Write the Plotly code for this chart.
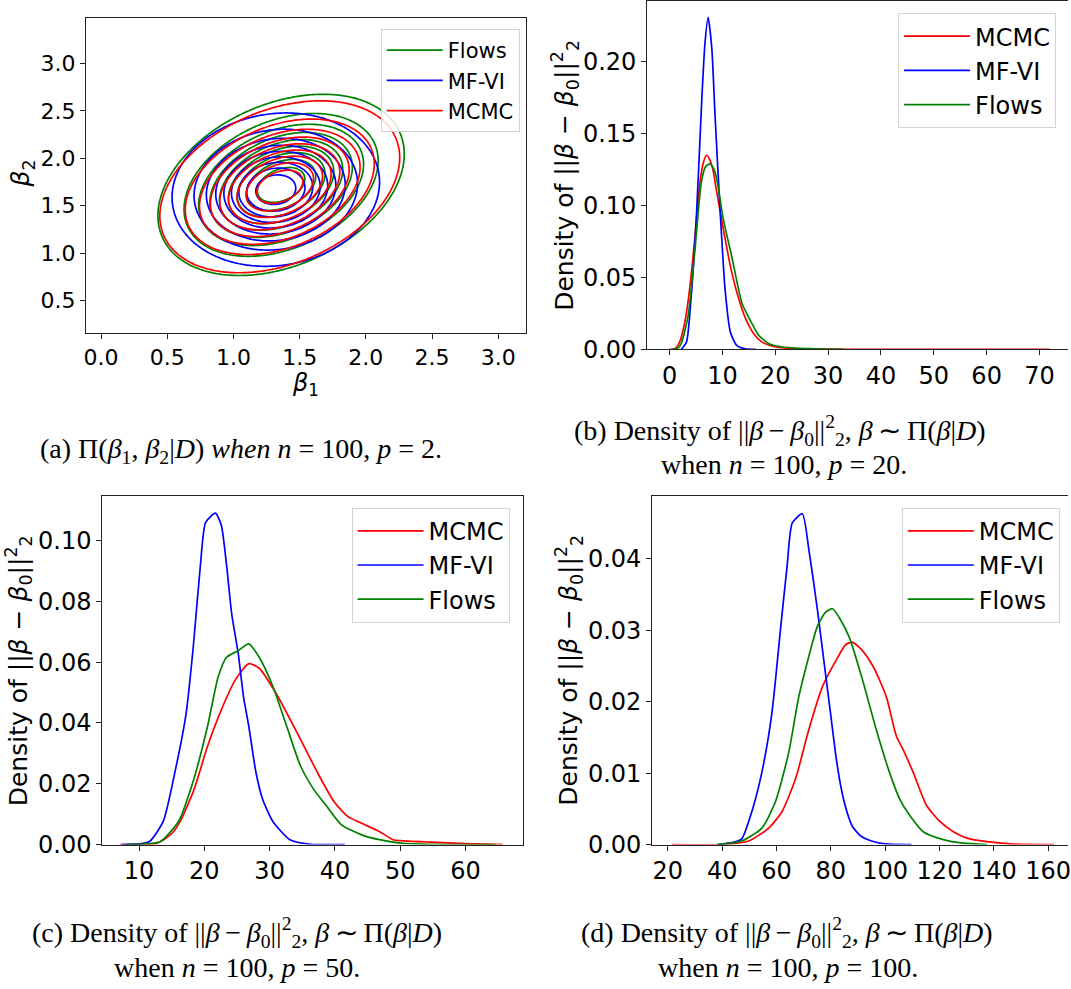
import numpy as np
import plotly.graph_objects as go

W, H = 1071, 989
RED, BLUE, GREEN = "#ff0000", "#0000ff", "#008000"

# ---------------- (a) 2-D posterior: Gaussian summaries ----------
methods_a = ["Flows", "MF-VI", "MCMC"]
colors_a = [GREEN, BLUE, RED]
mean_b1 = [1.36, 1.32, 1.35]
mean_b2 = [1.72, 1.67, 1.70]
sd_b1 = [0.38, 0.32, 0.37]
sd_b2 = [0.39, 0.33, 0.37]
corr_b = [0.34, 0.10, 0.34]
iso_levels = [0.05, 0.9]          # seaborn-style iso-proportion levels (10 levels)

# ---------------- (b) p = 20 --------------------------------------------------------------
mcmc_x_20 = [0, 1.0, 1.9, 2.9, 3.8, 4.8, 5.7, 6.4, 7.0, 7.6, 8.2, 8.9, 10.2, 11.5, 12.7, 14.3, 15.1, 15.9, 17.5, 20.1, 23.3, 29.6, 40, 55, 72]
mcmc_y_20 = [0, 0.0003, 0.005, 0.019, 0.042, 0.078, 0.115, 0.130, 0.135, 0.132, 0.125, 0.110, 0.083, 0.058, 0.040, 0.022, 0.016, 0.011, 0.005, 0.0016, 0.0005, 0.0001, 0, 0, 0]
mfvi_x_20 = [2.2, 3.2, 4.1, 5.1, 6.1, 6.7, 7.3, 8.0, 8.6, 9.6, 10.5, 11.5, 12.7, 14.3, 16.3]
mfvi_y_20 = [0, 0.005, 0.037, 0.094, 0.174, 0.213, 0.231, 0.209, 0.163, 0.094, 0.042, 0.012, 0.0027, 0.0003, 0]
flows_x_20 = [0.5, 1.5, 2.2, 3.5, 4.8, 6.0, 6.8, 7.6, 8.3, 8.9, 10.2, 11.8, 13.7, 15.3, 16.9, 18.8, 21.4, 26.5, 32.8]
flows_y_20 = [0, 0.0005, 0.004, 0.023, 0.069, 0.116, 0.127, 0.129, 0.126, 0.119, 0.090, 0.064, 0.032, 0.020, 0.0096, 0.0039, 0.0016, 0.0005, 0]

# ---------------- (c) p = 50 --------------------------------------------------------------
mcmc_x_50 = [7.1, 10.5, 12.6, 14.2, 15.3, 16.3, 18.4, 20.5, 22.6, 24.7, 26.8, 28.4, 31.0, 34.2, 37.3, 39.9, 42.0, 44.1, 46.8, 48.9, 50.0, 54.6, 59.9, 65.7]
mcmc_y_50 = [0, 0.0001, 0.0003, 0.0022, 0.0043, 0.0076, 0.018, 0.0324, 0.0443, 0.054, 0.0595, 0.058, 0.0497, 0.0368, 0.0238, 0.014, 0.0092, 0.007, 0.0043, 0.0016, 0.0013, 0.0008, 0.0003, 0]
mfvi_x_50 = [7.4, 10.0, 11.6, 13.7, 15.6, 17.2, 18.3, 19.4, 20.2, 21.7, 22.6, 23.4, 24.2, 25.2, 26.0, 26.8, 27.9, 28.9, 30.5, 33.1, 36.3, 41.5]
mfvi_y_50 = [0, 0.0002, 0.001, 0.0076, 0.0249, 0.043, 0.065, 0.092, 0.106, 0.109, 0.105, 0.092, 0.0757, 0.0627, 0.0486, 0.039, 0.0238, 0.0151, 0.0076, 0.0016, 0.0001, 0]
flows_x_50 = [8.0, 11.0, 13.2, 15.3, 16.3, 18.4, 20.5, 22.1, 23.4, 25.2, 26.8, 28.4, 30.5, 32.6, 34.7, 36.8, 38.6, 41.0, 44.1, 46.8, 50.0, 54.6, 64.6]
flows_y_50 = [0, 0.0002, 0.0009, 0.0054, 0.0086, 0.0216, 0.039, 0.055, 0.0616, 0.0638, 0.066, 0.0616, 0.052, 0.039, 0.026, 0.018, 0.013, 0.0065, 0.0032, 0.0016, 0.0005, 0.0001, 0]

# ---------------- (d) p = 100 -------------------------------------------------------------
mcmc_x_100 = [21.6, 39.8, 49.7, 57.1, 62.0, 67.0, 71.9, 76.9, 81.8, 85.5, 88.0, 91.7, 96.0, 100.4, 104.1, 106.6, 110.3, 115.2, 120.2, 125.1, 130.1, 137.5, 146.1, 162.1]
mcmc_y_100 = [0, 0, 0.0005, 0.0023, 0.0046, 0.0092, 0.0161, 0.0221, 0.0257, 0.028, 0.0283, 0.0271, 0.0246, 0.0207, 0.0152, 0.0133, 0.0101, 0.0055, 0.0032, 0.0018, 0.0009, 0.0004, 0.0001, 0]
mfvi_x_100 = [38.6, 44.0, 47.2, 50.9, 54.6, 58.3, 61.4, 63.9, 65.8, 69.5, 72.0, 75.0, 78.0, 80.0, 82.0, 84.0, 86.0, 88.0, 91.0, 95.0, 100.0, 109.7]
mfvi_y_100 = [0, 0.0003, 0.0008, 0.0046, 0.0101, 0.0184, 0.0299, 0.039, 0.045, 0.0463, 0.041, 0.033, 0.024, 0.018, 0.012, 0.0075, 0.0045, 0.0025, 0.0012, 0.0005, 0.0001, 0]
flows_x_100 = [38.0, 47.2, 54.6, 59.6, 64.5, 68.2, 72.0, 75.0, 78.0, 80.6, 83.0, 86.8, 91.7, 96.7, 101.6, 105.3, 109.0, 114.0, 121.4, 128.8, 137.5]
flows_y_100 = [0, 0.0005, 0.0023, 0.006, 0.0129, 0.0207, 0.0265, 0.0305, 0.0325, 0.033, 0.0318, 0.029, 0.023, 0.0161, 0.0101, 0.0064, 0.0041, 0.0018, 0.0007, 0.0002, 0]

names_1d = ["MCMC", "MF-VI", "Flows"]
colors_1d = [RED, BLUE, GREEN]

fig = go.Figure()

# ---- (a) contours
gx = np.linspace(-0.2, 3.4, 241)
gy = np.linspace(0.0, 3.6, 241)
GX, GY = np.meshgrid(gx, gy)
for i, name in enumerate(methods_a):
    u = (GX - mean_b1[i]) / sd_b1[i]
    v = (GY - mean_b2[i]) / sd_b2[i]
    r = corr_b[i]
    q = (u * u - 2 * r * u * v + v * v) / (1 - r * r)
    Z = np.exp(-0.5 * q)
    fig.add_trace(go.Contour(
        x=gx, y=gy, z=Z, xaxis="x", yaxis="y",
        contours=dict(coloring="none", start=iso_levels[0], end=iso_levels[1],
                      size=(iso_levels[1] - iso_levels[0]) / 8.05, showlabels=False),
        line=dict(color=colors_a[i], width=1.7), showscale=False,
        hoverinfo="skip", showlegend=False))
for i, name in enumerate(methods_a):
    fig.add_trace(go.Scatter(x=[None], y=[None], mode="lines", name=name,
                             line=dict(color=colors_a[i], width=1.7),
                             xaxis="x", yaxis="y", legend="legend"))

# ---- density panels
panels = [
    ("x2", "y2", "legend2", [(mcmc_x_20, mcmc_y_20), (mfvi_x_20, mfvi_y_20), (flows_x_20, flows_y_20)]),
    ("x3", "y3", "legend3", [(mcmc_x_50, mcmc_y_50), (mfvi_x_50, mfvi_y_50), (flows_x_50, flows_y_50)]),
    ("x4", "y4", "legend4", [(mcmc_x_100, mcmc_y_100), (mfvi_x_100, mfvi_y_100), (flows_x_100, flows_y_100)]),
]
for xa, ya, lg, series in panels:
    for (xs, ys), name, col in zip(series, names_1d, colors_1d):
        fig.add_trace(go.Scatter(x=xs, y=ys, mode="lines", name=name,
                                 line=dict(color=col, width=1.7, shape="spline", smoothing=0.6),
                                 xaxis=xa, yaxis=ya, legend=lg, hoverinfo="skip"))

TICKF = "DejaVu Sans"
def ax(domain, rng, tickvals, fmt, size, mirror, anchor):
    return dict(domain=domain, range=rng, tickvals=tickvals, tickformat=fmt,
                showgrid=False, zeroline=False, showline=True, linecolor="#222",
                linewidth=1.2, mirror=mirror, ticks="outside", ticklen=5, tickwidth=1.2,
                tickcolor="#222", tickfont=dict(family=TICKF, size=size, color="black"),
                anchor=anchor, fixedrange=True, ticklabeloverflow="allow")

fig.update_layout(
    width=W, height=H, margin=dict(l=0, r=0, t=0, b=0),
    paper_bgcolor="white", plot_bgcolor="white",
    xaxis=ax([84.4 / W, 526.9 / W], [-0.1135, 3.213], [0, 0.5, 1, 1.5, 2, 2.5, 3], ".1f", 22, True, "y"),
    yaxis=ax([1 - 337.3 / H, 1 - 18.3 / H], [0.1645, 3.478], [0.5, 1, 1.5, 2, 2.5, 3], ".1f", 22, True, "x"),
    xaxis2=ax([648.3 / W, 1.0], [-4.22, 75.4], [0, 10, 20, 30, 40, 50, 60, 70], "d", 24, True, "y2"),
    yaxis2=ax([1 - 354.3 / H, 1 - 1.0 / H], [0, 0.2423], [0, 0.05, 0.10, 0.15, 0.20], ".2f", 24, False, "x2"),
    xaxis3=ax([100.9 / W, 523.4 / W], [4.39, 68.8], [10, 20, 30, 40, 50, 60], "d", 24, True, "y3"),
    yaxis3=ax([1 - 856.7 / H, 1 - 503.3 / H], [0, 0.1146], [0, 0.02, 0.04, 0.06, 0.08, 0.10], ".2f", 24, True, "x3"),
    xaxis4=ax([653.3 / W, 1.0], [14.25, 167.3], [20, 40, 60, 80, 100, 120, 140, 160], "d", 24, True, "y4"),
    yaxis4=ax([1 - 856.7 / H, 1 - 503.3 / H], [0, 0.04875], [0, 0.01, 0.02, 0.03, 0.04], ".2f", 24, False, "x4"),
)

def leg(x, y, size, iw):
    return dict(x=x / W, y=1 - y / H, xanchor="left", yanchor="top",
                bgcolor="rgba(255,255,255,0.85)", bordercolor="#d4d4d4", borderwidth=1,
                font=dict(family=TICKF, size=size, color="black"), itemwidth=iw,
                tracegroupgap=0)

fig.update_layout(legend=leg(380.5, 29.3, 21, 56), legend2=leg(900.3, 13.3, 24, 66),
                  legend3=leg(351.2, 515, 24, 66), legend4=leg(904, 515, 24, 66))

ann = []
def note(text, x, y, size, family, angle=0):
    ann.append(dict(text=text, x=x / W, y=1 - y / H, xref="paper", yref="paper",
                    showarrow=False, xanchor="center", yanchor="middle", textangle=angle,
                    font=dict(family=family, size=size, color="black")))

ytitle = "Density of ||<i>β</i> − <i>β</i><sub>0</sub>||<sup>2</sup><sub>2</sub>"
note("<i>β</i><sub>2</sub>", 20, 176, 25, TICKF, -90)
note("<i>β</i><sub>1</sub>", 305, 390, 24, TICKF)
note(ytitle, 566, 178, 25, TICKF, -90)
note(ytitle, 17, 680, 25, TICKF, -90)
note(ytitle, 570, 680, 25, TICKF, -90)

CAP = "Liberation Serif"
S = "\u2009"
cap_top = ("Density of ||<i>β</i>" + S + "−" + S + "<i>β</i><sub>0</sub>||<sup>2</sup><sub>2</sub>, "
           "<i>β</i>" + S + "∼" + S + "Π(<i>β</i>|<i>D</i>)")
note("(a) Π(<i>β</i><sub>1</sub>, <i>β</i><sub>2</sub>|<i>D</i>) <i>when n</i> = 100, <i>p</i> = 2.", 240, 457, 28, CAP)
note("(b) " + cap_top, 782, 437, 28, CAP)
note("when <i>n</i> = 100, <i>p</i> = 20.", 786, 471, 28, CAP)
note("(c) " + cap_top, 236, 946, 28, CAP)
note("when <i>n</i> = 100, <i>p</i> = 50.", 236, 981, 28, CAP)
note("(d) " + cap_top, 789, 946, 28, CAP)
note("when <i>n</i> = 100, <i>p</i> = 100.", 790, 981, 28, CAP)
fig.update_layout(annotations=ann)

fig.write_html("out.html", config={"displayModeBar": False},
               post_script="document.body.style.margin='0';document.body.style.overflow='hidden';")
